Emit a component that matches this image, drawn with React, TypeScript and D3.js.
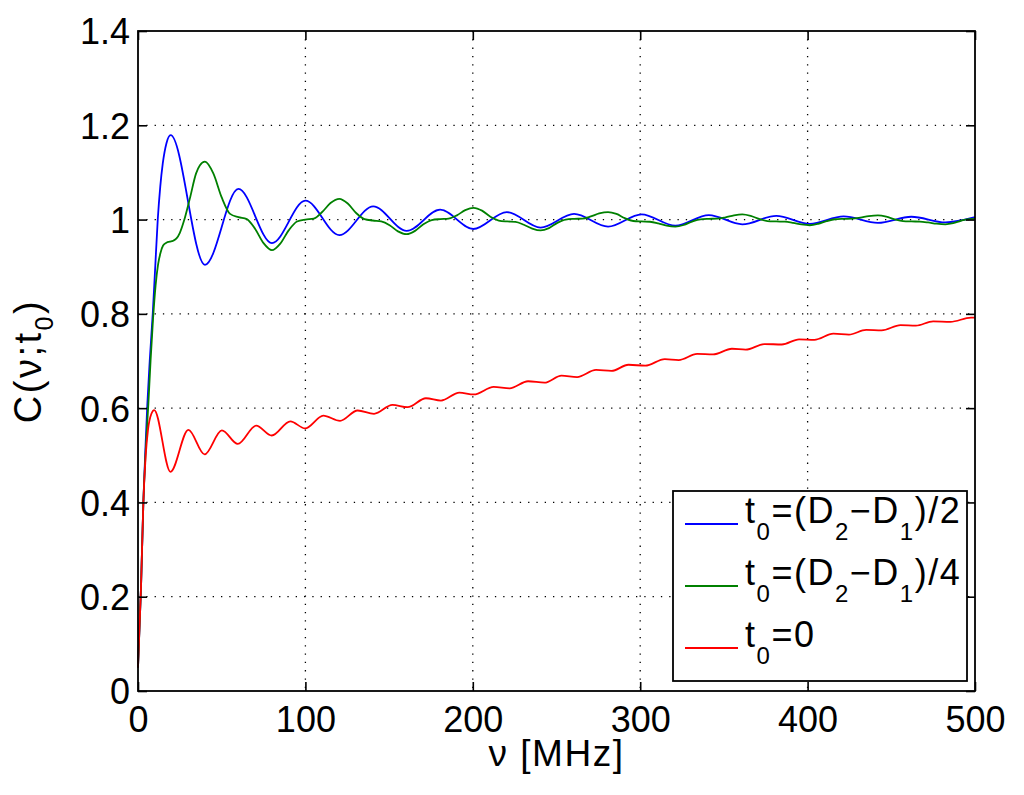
import React, { useRef, useEffect } from "react";
import * as d3 from "d3";

// axis ticks
const xTicks = [0, 100, 200, 300, 400, 500];
const yTicks = [0, 0.2, 0.4, 0.6, 0.8, 1, 1.2, 1.4];

// t0 = (D2-D1)/2  (blue)
const blueNu = [
  0, 1.8, 3.2, 4.5, 5.6, 7, 8.8, 10.3, 11.8, 13.3, 14.8, 17, 19.5,
  40, 60, 80, 100, 120.3, 140.5, 160.5, 180.5, 200.3, 220.3, 240.5, 260.5,
  280.8, 300.8, 321, 341, 361, 381.3, 401.3, 421.5, 442, 462, 482.3, 500,
];
const blueC = [
  0.05, 0.22, 0.4, 0.52, 0.61, 0.7, 0.8, 0.9, 1.0, 1.07, 1.119, 1.162, 1.179,
  0.904, 1.065, 0.95, 1.04, 0.967, 1.028, 0.976, 1.021, 0.98, 1.016, 0.983, 1.012,
  0.985, 1.011, 0.987, 1.0095, 0.99, 1.008, 0.991, 1.0066, 0.993, 1.006, 0.994, 1.005,
];

// t0 = (D2-D1)/4  (green)
const greenNu = [
  0, 1.8, 3.2, 4.6, 6.2, 7.5, 9, 10.5, 12, 13.5, 15, 17, 19, 21, 23, 25, 27.7, 31, 34.7, 37, 40,
  45, 50, 55, 60, 65, 70, 75, 80,
  85, 90, 95, 100, 105, 110, 115, 120.3,
  125.3, 130.3, 135.3, 140.3, 145.3, 150.3, 155.3, 160.5,
  165.5, 170.5, 175.5, 180.5, 185.5, 190.5, 195.5, 200.5,
  205.5, 210.5, 215.5, 220.5, 225.5, 230.5, 235.5, 240.5,
  245.5, 250.5, 255.5, 260.5, 265.5, 270.5, 275.5, 280.8,
  285.8, 290.8, 295.8, 300.8, 305.8, 310.8, 315.8, 321,
  326, 331, 336, 341, 346, 351, 356, 361,
  366, 371, 376, 381.3, 386.3, 391.3, 396.3, 401.3,
  406.3, 411.3, 416.3, 421.5, 426.5, 431.5, 436.5, 442,
  447, 452, 457, 462, 467, 472, 477, 482.3,
  487, 491.5, 496, 500,
];
const greenC = [
  0.05, 0.22, 0.4, 0.51, 0.61, 0.7, 0.79, 0.86, 0.905, 0.93, 0.945, 0.951, 0.953, 0.955, 0.96, 0.972, 1.0, 1.045, 1.098, 1.115, 1.123,
  1.098, 1.047, 1.012, 1.005, 1.001, 0.98, 0.95, 0.935,
  0.949, 0.977, 0.996, 1.0, 1.002, 1.016, 1.035, 1.044,
  1.034, 1.014, 1.001, 0.998, 0.996, 0.988, 0.975, 0.969,
  0.976, 0.99, 0.999, 1.001, 1.002, 1.009, 1.02, 1.025,
  1.019, 1.006, 0.998, 0.996, 0.995, 0.989, 0.981, 0.977,
  0.982, 0.993, 1.0, 1.0015, 1.002, 1.0066, 1.013, 1.016,
  1.012, 1.003, 0.997, 0.996, 0.9954, 0.992, 0.987, 0.985,
  0.9885, 0.9957, 1.0006, 1.0015, 1.002, 1.0049, 1.009, 1.011,
  1.0078, 1.0013, 0.9968, 0.996, 0.9956, 0.9932, 0.9897, 0.988,
  0.991, 0.9967, 1.0007, 1.0015, 1.0019, 1.0042, 1.0074, 1.009,
  1.0063, 1.0006, 0.9967, 0.996, 0.9957, 0.9939, 0.9913, 0.99,
  0.9924, 0.9974, 1.0009, 1.0015,
];

// t0 = 0  (red)
const redNu = [
  0, 1.8, 3.2, 4.6, 6, 8, 9.7,
  19.4, 30.1, 39.8, 50.1, 59.6, 70.6, 79.9, 91, 99.8, 110.7, 120.7, 131.2, 141,
  152, 161, 172, 181, 192, 200.6, 212.5, 222, 233, 242.8, 253, 262.3, 273.6, 282.8,
  293, 303, 314.7, 323, 334, 343.5, 354.8, 363, 374.3, 384.6, 394.9, 404, 415.4,
  424.7, 435, 444.2, 455.5, 464.7, 475, 485.3, 497.6, 500,
];
const redC = [
  0.05, 0.22, 0.4, 0.5, 0.555, 0.588, 0.596,
  0.465, 0.554, 0.502, 0.553, 0.524, 0.563, 0.542, 0.572, 0.557, 0.584, 0.573, 0.595, 0.588,
  0.607, 0.602, 0.621, 0.616, 0.633, 0.629, 0.645, 0.642, 0.657, 0.654, 0.669, 0.666, 0.681, 0.679,
  0.692, 0.69, 0.704, 0.702, 0.715, 0.714, 0.726, 0.724, 0.736, 0.735, 0.746, 0.745, 0.758,
  0.756, 0.766, 0.765, 0.776, 0.775, 0.784, 0.783, 0.792, 0.792,
];

// legend entries: [text, isSubscript]
const legendEntries: { color: string; parts: [string, boolean][] }[] = [
  { color: "#0000ff", parts: [["t", false], ["0", true], ["=(D", false], ["2", true], ["\u2212D", false], ["1", true], [")/2", false]] },
  { color: "#008000", parts: [["t", false], ["0", true], ["=(D", false], ["2", true], ["\u2212D", false], ["1", true], [")/4", false]] },
  { color: "#ff0000", parts: [["t", false], ["0", true], ["=0", false]] },
];

const FONT = "'Liberation Sans', Arial, Helvetica, sans-serif";

export default function App() {
  const svgRef = useRef<SVGSVGElement>(null);

  useEffect(() => {
    if (!svgRef.current) return;
    const svg = d3.select(svgRef.current);
    svg.selectAll("*").remove();

    const width = 1024;
    const height = 795;
    const margin = { top: 31, right: 49, bottom: 104, left: 138 };
    const innerWidth = width - margin.left - margin.right;
    const innerHeight = height - margin.top - margin.bottom;

    const xScale = d3.scaleLinear().domain([0, 500]).range([0, innerWidth]);
    const yScale = d3.scaleLinear().domain([0, 1.4]).range([innerHeight, 0]);

    svg.append("rect").attr("width", width).attr("height", height).attr("fill", "#fff");

    const g = svg.append("g").attr("transform", `translate(${margin.left},${margin.top})`);

    // dotted grid
    g.selectAll(".gx")
      .data(xTicks.slice(1, -1))
      .enter()
      .append("line")
      .attr("x1", d => xScale(d))
      .attr("x2", d => xScale(d))
      .attr("y1", 0)
      .attr("y2", innerHeight)
      .attr("stroke", "#000")
      .attr("stroke-width", 1.3)
      .attr("stroke-dasharray", "1.3,7");
    g.selectAll(".gy")
      .data(yTicks.slice(1, -1))
      .enter()
      .append("line")
      .attr("x1", 0)
      .attr("x2", innerWidth)
      .attr("y1", d => yScale(d))
      .attr("y2", d => yScale(d))
      .attr("stroke", "#000")
      .attr("stroke-width", 1.3)
      .attr("stroke-dasharray", "1.3,7");

    // curves
    const drawSeries = (nu: number[], c: number[], color: string) => {
      const pts = nu.map((v, i) => [v, c[i]] as [number, number]);
      const line = d3.line<[number, number]>()
        .x(d => xScale(d[0]))
        .y(d => yScale(d[1]))
        .curve(d3.curveMonotoneX);
      g.append("path")
        .datum(pts)
        .attr("fill", "none")
        .attr("stroke", color)
        .attr("stroke-width", 1.8)
        .attr("stroke-linejoin", "round")
        .attr("d", line);
    };
    drawSeries(blueNu, blueC, "#0000ff");
    drawSeries(greenNu, greenC, "#008000");
    drawSeries(redNu, redC, "#ff0000");

    // axes, ticks pointing inward on all four sides
    const styleAxis = (sel: d3.Selection<SVGGElement, unknown, null, undefined>) => {
      sel.select(".domain").remove();
      sel.selectAll("line").attr("stroke", "#000").attr("stroke-width", 1.6);
      sel.selectAll("text")
        .attr("fill", "#000")
        .style("font-family", FONT)
        .style("font-size", "36px");
    };

    const xAxis = g.append("g")
      .attr("transform", `translate(0,${innerHeight})`)
      .call(d3.axisBottom(xScale).tickValues(xTicks).tickSizeInner(-9).tickSizeOuter(0).tickPadding(15).tickFormat(d => `${d}`));
    styleAxis(xAxis);

    const yAxis = g.append("g")
      .call(d3.axisLeft(yScale).tickValues(yTicks).tickSizeInner(-9).tickSizeOuter(0).tickPadding(8).tickFormat(d => `${d}`));
    styleAxis(yAxis);
    yAxis.selectAll("text").attr("dy", "0.36em");

    const xTop = g.append("g")
      .call(d3.axisTop(xScale).tickValues(xTicks).tickSizeInner(-9).tickSizeOuter(0).tickFormat(() => ""));
    styleAxis(xTop);
    const yRight = g.append("g")
      .attr("transform", `translate(${innerWidth},0)`)
      .call(d3.axisRight(yScale).tickValues(yTicks).tickSizeInner(-9).tickSizeOuter(0).tickFormat(() => ""));
    styleAxis(yRight);

    // box
    g.append("rect")
      .attr("width", innerWidth)
      .attr("height", innerHeight)
      .attr("fill", "none")
      .attr("stroke", "#000")
      .attr("stroke-width", 1.8);

    // axis labels
    g.append("text")
      .attr("x", innerWidth / 2)
      .attr("y", innerHeight + 75)
      .attr("text-anchor", "middle")
      .style("font-family", FONT)
      .style("font-size", "37px")
      .style("letter-spacing", "1.5px")
      .text("\u03bd [MHz]");

    const yl = g.append("text")
      .attr("transform", `translate(${-97},${innerHeight / 2}) rotate(-90)`)
      .attr("text-anchor", "middle")
      .style("font-family", FONT)
      .style("font-size", "38px")
      .style("letter-spacing", "2.5px");
    yl.append("tspan").text("C(\u03bd;t");
    yl.append("tspan").attr("dy", 12).style("font-size", "25px").text("0");
    yl.append("tspan").attr("dy", -12).text(")");

    // legend
    const lx = 673 - margin.left;
    const ly = 491 - margin.top;
    const legend = g.append("g").attr("transform", `translate(${lx},${ly})`);
    legend.append("rect")
      .attr("width", 294)
      .attr("height", 190)
      .attr("fill", "#fff")
      .attr("stroke", "#000")
      .attr("stroke-width", 1.8);

    legendEntries.forEach((item, i) => {
      const y = 32 + i * 62;
      legend.append("line")
        .attr("x1", 12)
        .attr("x2", 65)
        .attr("y1", y + 1)
        .attr("y2", y + 1)
        .attr("stroke", item.color)
        .attr("stroke-width", 1.8);
      const t = legend.append("text")
        .attr("x", 72)
        .attr("y", y)
        .style("font-family", FONT)
        .style("font-size", "36px")
        .style("letter-spacing", "1.5px");
      let down = false;
      item.parts.forEach(([txt, sub]) => {
        const ts = t.append("tspan").text(txt);
        if (sub && !down) {
          ts.attr("dy", 17).style("font-size", "24px");
          down = true;
        } else if (sub) {
          ts.style("font-size", "24px");
        } else if (down) {
          ts.attr("dy", -17);
          down = false;
        }
      });
    });
  }, []);

  return (
    <svg
      ref={svgRef}
      width={1024}
      height={795}
      style={{ position: "absolute", left: 0, top: 0, display: "block" }}
    />
  );
}
